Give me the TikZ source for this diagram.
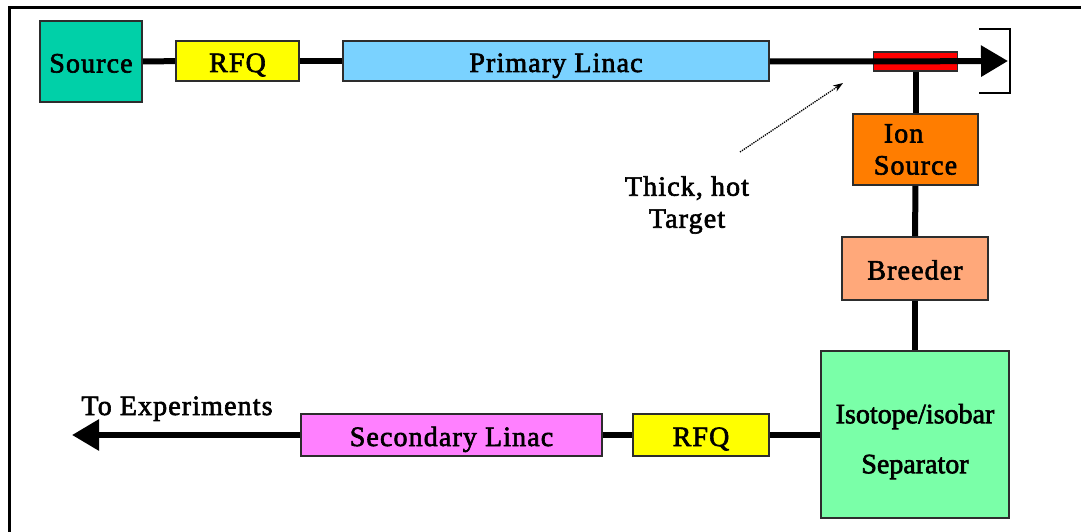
\documentclass[tikz,border=0pt]{standalone}
\usepackage{fontspec}
\setmainfont{Liberation Serif}
\newfontfamily\boxfont[FakeBold=2.2,LetterSpace=4]{Liberation Serif}
\newfontfamily\tightfont[FakeBold=2.2,LetterSpace=0]{Liberation Serif}
\usetikzlibrary{arrows.meta}
\definecolor{srcteal}{RGB}{0,208,168}
\definecolor{rfqyellow}{RGB}{255,255,0}
\definecolor{linacblue}{RGB}{122,210,255}
\definecolor{targetred}{RGB}{255,0,0}
\definecolor{ionorange}{RGB}{255,125,0}
\definecolor{breedersalmon}{RGB}{255,168,122}
\definecolor{sepgreen}{RGB}{122,255,168}
\definecolor{seclinac}{RGB}{255,128,255}
\definecolor{boxedge}{RGB}{45,45,45}
\tikzset{
  boxtext/.style={font=\boxfont\fontsize{28}{32}\selectfont, align=center},
  blockbox/.style={draw=boxedge, line width=1.6pt, inner sep=0pt, boxtext,
    text height=22pt, text depth=0pt},
  multibox/.style={blockbox, text height={}, text depth={}},
  beam/.style={line width=6pt, black},
  bighead/.style={-{Triangle[length=27pt,width=30pt]}},
  pointer/.style={line width=1.3pt, densely dotted, -{Stealth[length=10pt,width=7pt]}},
  lbl/.style={boxtext, inner sep=0pt}
}
\begin{document}
\begin{tikzpicture}[x=1pt,y=-1pt]
\useasboundingbox (0,0) rectangle (1081,532);
% frame
\draw[line width=3pt] (9.5,532) -- (9.5,7.5) -- (1081,7.5);

% primary beam line blocks
\node[blockbox, fill=srcteal, minimum width=102pt, minimum height=81pt] (src) at (91,61.5) {Source};
\node[blockbox, fill=rfqyellow, minimum width=123pt, minimum height=40pt] (rfqa) at (237.5,61) {RFQ};
\node[blockbox, fill=linacblue, minimum width=426pt, minimum height=40pt] (plin) at (556,61) {Primary Linac};
\node[draw=boxedge, line width=1.4pt, fill=targetred, minimum width=84pt, minimum height=19pt, inner sep=0pt] (target) at (915.5,61.5) {};

% vertical chain
\node[multibox, fill=ionorange, minimum width=125pt, minimum height=71pt, align=left] (ion) at (915.5,149.5) {\hspace{10pt}Ion\\[0pt]Source};
\node[blockbox, fill=breedersalmon, minimum width=146pt, minimum height=63pt] (breeder) at (915,268.5) {Breeder};
\node[multibox, fill=sepgreen, minimum width=188pt, minimum height=167pt,
  label={[lbl, font=\tightfont\fontsize{28}{32}\selectfont, yshift=-7pt]center:{Isotope/isobar\\[18pt]Separator}}] (sep) at (915,434.5) {};

% secondary beam line blocks
\node[blockbox, fill=rfqyellow, minimum width=136pt, minimum height=42pt] (rfqb) at (701,435) {RFQ};
\node[blockbox, fill=seclinac, minimum width=301pt, minimum height=42pt] (slin) at (451.5,435) {Secondary Linac};

% connectors
\draw[beam] (src) -- (rfqa);
\draw[beam] (rfqa) -- (plin);
\draw[beam] (plin) -- (target);
\coordinate (dump) at (1008,61);
\draw[beam, bighead] (target.west) -- (dump);
\draw[beam] (target) -- (ion);
\draw[beam] (ion) -- (breeder);
\draw[beam] (breeder) -- (sep);
\draw[beam] (sep.west |- rfqb) -- (rfqb);
\draw[beam] (rfqb) -- (slin);
\coordinate (expt) at (72,435);
\draw[beam, bighead] (slin.west) -- (expt);

% beam dump bracket
\draw[line width=2.5pt] (979,29) -- (1010,29) -- (1010,93) -- (979,93);

% labels
\node[lbl, text height=22pt, text depth=0pt] (tolbl) at (177,404) {To Experiments};
\node[lbl] (tgtlbl) at (687,205) {Thick, hot\\Target};
\coordinate (ptrstart) at (740,152);
\coordinate (ptrend) at (843,83);
\draw[pointer] (ptrstart) -- (ptrend);
\end{tikzpicture}
\end{document}
